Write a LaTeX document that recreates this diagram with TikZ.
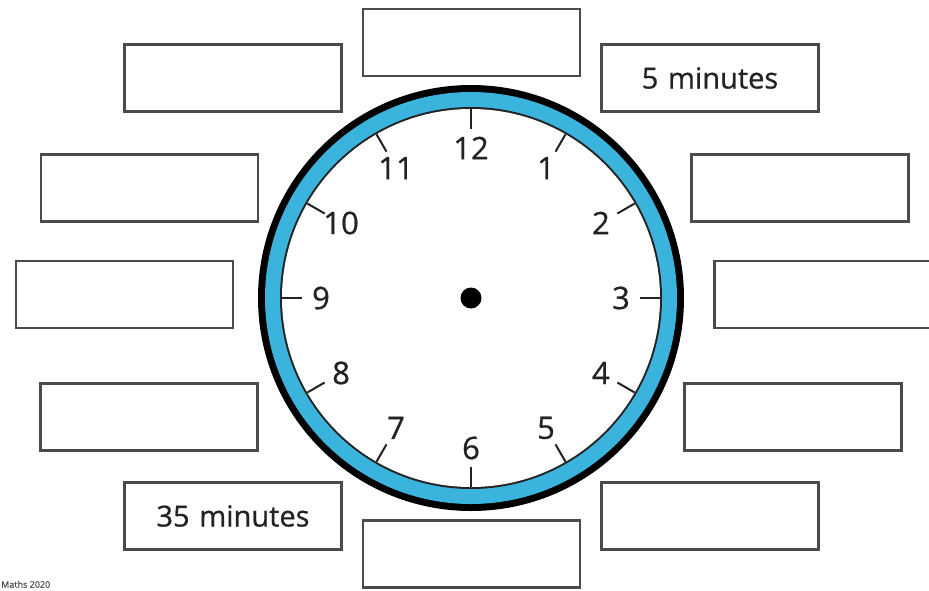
\documentclass[tikz,border=0pt]{standalone}
\usepackage{fontspec}
\setmainfont{Open Sans}[FakeBold=0.7]
\usetikzlibrary{calc}
\definecolor{rimblue}{RGB}{58,180,220}
\definecolor{boxgray}{RGB}{75,75,75}
\definecolor{inkgray}{RGB}{35,35,35}
\begin{document}
\begin{tikzpicture}[x=1pt,y=-1pt,
  ansbox/.style={draw=boxgray, line width=2.2pt, fill=white, minimum width=217pt, minimum height=67pt, inner sep=0pt, font=\fontsize{29}{35}\selectfont, text=inkgray},
  num/.style={font=\fontsize{31}{37}\selectfont, text=inkgray, inner sep=0pt},
  ticktick/.style={draw=inkgray, line width=2pt}]
\useasboundingbox (0,0) rectangle (929,590);
\fill[white] (0,0) rectangle (929,590);
% answer boxes
\node[ansbox] (b1) at (471.5,42.5) {};
\node[ansbox] (b2) at (233,78) {};
\node[ansbox] (b3) at (710,78) {5\,\,minutes};
\node[ansbox] (b4) at (149.5,188) {};
\node[ansbox] (b5) at (800,188) {};
\node[ansbox] (b6) at (124.5,294.5) {};
\node[ansbox] (b7) at (823,294.5) {};
\node[ansbox] (b8) at (149,417) {};
\node[ansbox] (b9) at (793,417) {};
\node[ansbox] (b10) at (233,516) {35\,\,minutes};
\node[ansbox] (b11) at (710,516) {};
\node[ansbox] (b12) at (471.5,554) {};
% clock
\coordinate (c) at (471,298);
\fill[black] (c) circle (213);
\fill[rimblue] (c) circle (206);
\fill[inkgray] (c) circle (191);
\fill[white] (c) circle (189);
\foreach \h in {1,...,12}{
  \pgfmathsetmacro{\ang}{30*\h-90}
  \draw[ticktick] ([shift={(\ang:189)}]c) -- ([shift={(\ang:169)}]c);
  \node[num] (n\h) at ([shift={(\ang:150)}]c) {\h};
}
\fill[black] (c) circle (10.5);
\node[anchor=south west, font=\fontsize{9}{10}\selectfont, text=black!70, inner sep=0pt] (credit) at (1,588) {Maths 2020};
\end{tikzpicture}
\end{document}
